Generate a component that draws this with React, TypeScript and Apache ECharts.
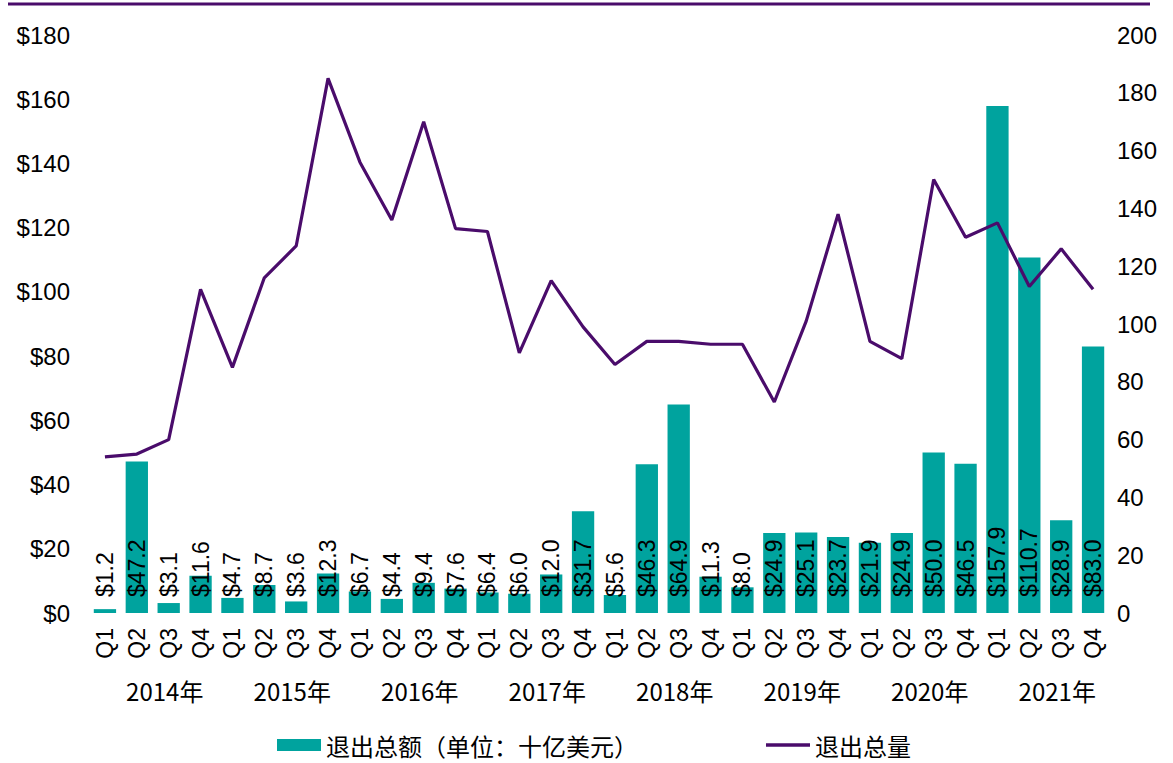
import React, { useEffect, useRef } from 'react';
import * as echarts from 'echarts';

const quarters = [
  'Q1', 'Q2', 'Q3', 'Q4', 'Q1', 'Q2', 'Q3', 'Q4',
  'Q1', 'Q2', 'Q3', 'Q4', 'Q1', 'Q2', 'Q3', 'Q4',
  'Q1', 'Q2', 'Q3', 'Q4', 'Q1', 'Q2', 'Q3', 'Q4',
  'Q1', 'Q2', 'Q3', 'Q4', 'Q1', 'Q2', 'Q3', 'Q4',
];
const years = ['2014年', '2015年', '2016年', '2017年', '2018年', '2019年', '2020年', '2021年'];
const exitValue = [
  1.2, 47.2, 3.1, 11.6, 4.7, 8.7, 3.6, 12.3,
  6.7, 4.4, 9.4, 7.6, 6.4, 6.0, 12.0, 31.7,
  5.6, 46.3, 64.9, 11.3, 8.0, 24.9, 25.1, 23.7,
  21.9, 24.9, 50.0, 46.5, 157.9, 110.7, 28.9, 83.0,
];
const exitCount = [
  54, 55, 60, 112, 85, 116, 127, 185,
  156, 136, 170, 133, 132, 90, 115, 99,
  86, 94, 94, 93, 93, 73, 101, 138,
  94, 88, 150, 130, 135, 113, 126, 112,
];
const leftTicks = { min: 0, max: 180, interval: 20 };
const rightTicks = { min: 0, max: 200, interval: 20 };

const TEAL = '#00A39E';
const PURPLE = '#4A0C6B';
const FONT = '"Liberation Sans", Arial, "Noto Sans CJK SC", sans-serif';
const CJK = '"Noto Sans CJK SC", "Liberation Sans", sans-serif';

export default function App() {
  const ref = useRef<HTMLDivElement>(null);
  useEffect(() => {
    document.body.style.margin = '0';
    const chart = echarts.init(ref.current!, undefined, { renderer: 'svg' });
    chart.setOption({
      animation: false,
      backgroundColor: '#ffffff',
      textStyle: { fontFamily: FONT },
      graphic: [
        {
          type: 'line',
          shape: { x1: 8, y1: 4, x2: 1150, y2: 4 },
          style: { stroke: PURPLE, lineWidth: 3 },
        },
      ],
      grid: { left: 89, right: 64, top: 35, bottom: 150 },
      legend: {
        left: 272,
        top: 727,
        itemWidth: 44,
        itemHeight: 12,
        itemGap: 128,
        textStyle: { fontSize: 24, lineHeight: 26, color: '#000', fontFamily: CJK },
        data: [
          { name: '退出总额（单位：十亿美元）', icon: 'rect' },
          { name: '退出总量', icon: 'path://M0,0H44V3.5H0Z' },
        ],
      },
      xAxis: [
        {
          type: 'category',
          data: quarters,
          position: 'bottom',
          axisLine: { show: false },
          axisTick: { show: false },
          axisLabel: {
            rotate: 90,
            fontSize: 23,
            color: '#000',
            margin: 15,
            interval: 0,
            fontFamily: FONT,
          },
        },
        {
          type: 'category',
          data: years,
          position: 'bottom',
          axisLine: { show: false },
          axisTick: { show: false },
          axisLabel: {
            fontSize: 24,
            color: '#000',
            margin: 65,
            interval: 0,
            padding: [0, 0, 0, 24],
            fontFamily: CJK,
          },
        },
      ],
      yAxis: [
        {
          type: 'value',
          ...leftTicks,
          position: 'left',
          splitLine: { show: false },
          axisLine: { show: false },
          axisTick: { show: false },
          axisLabel: {
            fontSize: 24,
            color: '#000',
            margin: 19,
            formatter: (v: number) => '$' + v,
          },
        },
        {
          type: 'value',
          ...rightTicks,
          position: 'right',
          splitLine: { show: false },
          axisLine: { show: false },
          axisTick: { show: false },
          axisLabel: { fontSize: 24, color: '#000', margin: 8 },
        },
      ],
      series: [
        {
          name: '退出总额（单位：十亿美元）',
          type: 'bar',
          xAxisIndex: 0,
          yAxisIndex: 0,
          data: exitValue,
          barCategoryGap: '30%',
          itemStyle: { color: TEAL },
          label: {
            show: true,
            position: 'insideBottom',
            distance: 16,
            rotate: 90,
            align: 'left',
            verticalAlign: 'middle',
            fontSize: 23,
            color: '#000',
            fontFamily: FONT,
            formatter: (p: any) => '$' + Number(p.value).toFixed(1),
          },
        },
        {
          name: '退出总量',
          type: 'line',
          xAxisIndex: 0,
          yAxisIndex: 1,
          data: exitCount,
          symbol: 'none',
          lineStyle: { color: PURPLE, width: 3.2 },
          itemStyle: { color: PURPLE },
          z: 5,
        },
      ],
    });
    return () => chart.dispose();
  }, []);
  return <div ref={ref} style={{ width: 1173, height: 763 }} />;
}
